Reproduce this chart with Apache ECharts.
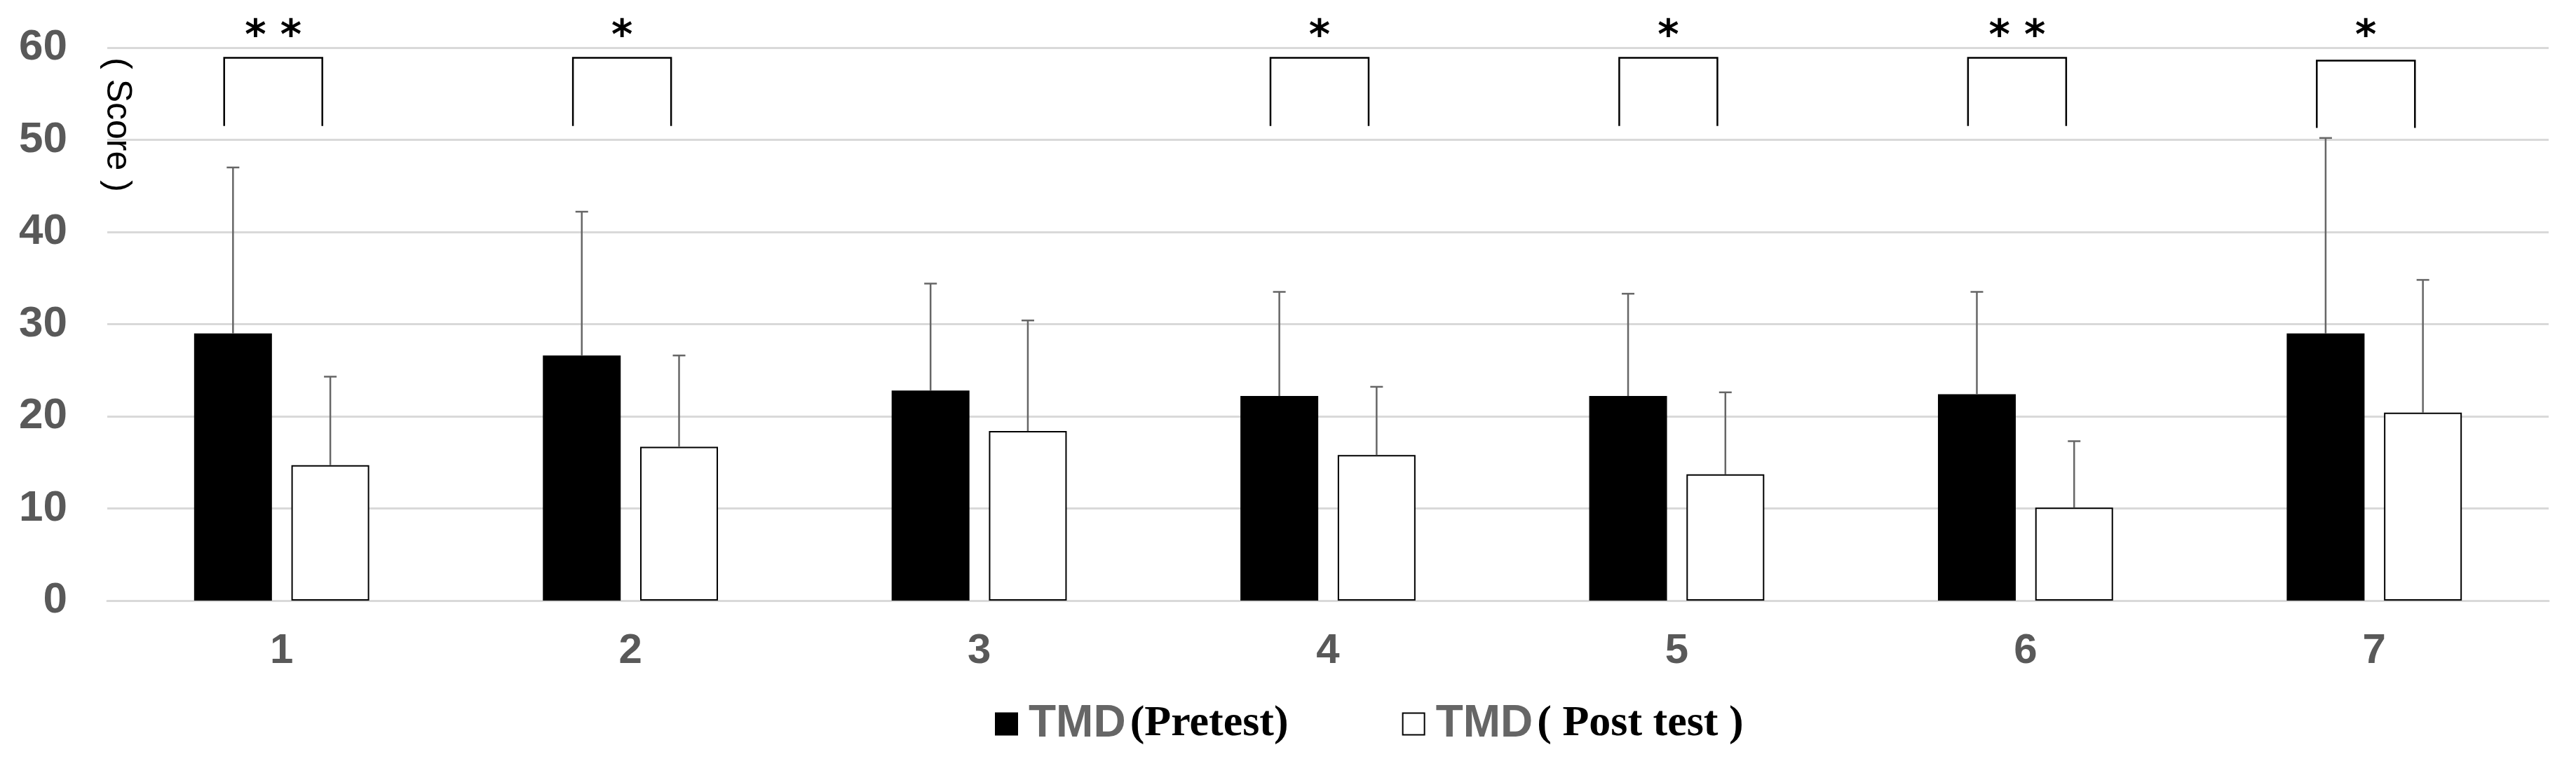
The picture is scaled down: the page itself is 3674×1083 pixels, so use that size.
<!DOCTYPE html>
<html>
<head>
<meta charset="utf-8">
<script src="https://cdn.jsdelivr.net/npm/echarts@6.0.0/dist/echarts.min.js"></script>
<style>
  html, body { margin: 0; padding: 0; background: #fff; }
  #main { width: 3674px; height: 1083px; }
</style>
</head>
<body>
<div id="main"></div>
<script>
// group labels on the x axis
var categories = ['1', '2', '3', '4', '5', '6', '7'];
// mean scores
var pretest = [29.0, 26.6, 22.8, 22.2, 22.2, 22.4, 29.0];
var posttest = [14.7, 16.7, 18.4, 15.8, 13.7, 10.1, 20.4];
// standard deviations (upper whisker only)
var pretestSD = [18.0, 15.6, 11.6, 11.3, 11.1, 11.1, 21.2];
var posttestSD = [9.6, 9.9, 12.0, 7.4, 8.9, 7.2, 14.4];
// significance marks per group
var sigMarks = ['* *', '*', '', '*', '*', '* *', '*'];
var bracketTop = [58.9, 58.9, null, 58.9, 58.9, 58.9, 58.6];
var bracketBottom = [51.5, 51.5, null, 51.5, 51.5, 51.5, 51.3];
var yTicks = [0, 10, 20, 30, 40, 50, 60];
var seriesNames = ['TMD (Pretest)', 'TMD ( Post test )'];
var legendMain = 'TMD';
var legendSub = ['(Pretest)', '( Post test )'];

var chart = echarts.init(document.getElementById('main'));

var BAR_W = 111;
var HALF = (BAR_W + BAR_W * 0.25) / 2;

function errData(means, sds) {
  return means.map(function (m, i) { return [i, m + sds[i], m]; });
}

function errRender(off) {
  return function (params, api) {
    var top = api.coord([api.value(0), api.value(1)]);
    var base = api.coord([api.value(0), api.value(2)]);
    var x = top[0] + off;
    var st = { stroke: '#666', lineWidth: 2.5 };
    return {
      type: 'group',
      children: [
        { type: 'line', shape: { x1: x, y1: base[1], x2: x, y2: top[1] }, style: st },
        { type: 'line', shape: { x1: x - 9, y1: top[1], x2: x + 9, y2: top[1] }, style: st }
      ]
    };
  };
}

var bracketData = [];
var bracketLabels = [];
sigMarks.forEach(function (s, i) {
  if (s) {
    bracketData.push([i, bracketTop[i], bracketBottom[i]]);
    bracketLabels.push(s);
  }
});

chart.setOption({
  backgroundColor: '#fff',
  animation: false,
  grid: { left: 153, right: 39, top: 68, bottom: 226 },
  legend: {
    left: 1414,
    top: 996,
    itemWidth: 31,
    itemHeight: 31,
    itemGap: 162,
    icon: 'rect',
    data: seriesNames,
    formatter: function (name) {
      var k = seriesNames.indexOf(name);
      return '{a|' + legendMain + '}{b|' + legendSub[k] + '}';
    },
    textStyle: {
      rich: {
        a: { fontFamily: 'Liberation Sans', fontSize: 64, fontWeight: 'bold', color: '#666', padding: [0, 6, 0, 11], lineHeight: 70 },
        b: { fontFamily: 'Liberation Serif', fontSize: 62, fontWeight: 'bold', color: '#000', lineHeight: 70 }
      }
    }
  },
  graphic: [{
    type: 'text',
    x: 167,
    y: 178,
    rotation: -Math.PI / 2,
    style: {
      text: '( Score )',
      font: '50px "Liberation Sans"',
      fill: '#000',
      align: 'center',
      verticalAlign: 'middle'
    }
  }],
  xAxis: {
    type: 'category',
    data: categories,
    axisLine: { lineStyle: { color: '#d9d9d9', width: 3 } },
    axisTick: { show: false },
    axisLabel: { fontFamily: 'Liberation Sans', fontSize: 60, fontWeight: 'bold', color: '#595959', margin: 42 }
  },
  yAxis: {
    type: 'value',
    min: yTicks[0],
    max: yTicks[yTicks.length - 1],
    interval: 10,
    axisLine: { show: false },
    axisTick: { show: false },
    splitLine: { lineStyle: { color: '#d9d9d9', width: 3 } },
    axisLabel: { fontFamily: 'Liberation Sans', fontSize: 62, fontWeight: 'bold', color: '#595959', margin: 57 }
  },
  series: [
    {
      name: seriesNames[0],
      type: 'bar',
      data: pretest,
      barWidth: BAR_W,
      barGap: '25%',
      itemStyle: { color: '#000', borderColor: '#000', borderWidth: 2 }
    },
    {
      name: seriesNames[1],
      type: 'bar',
      data: posttest,
      barWidth: BAR_W,
      barGap: '25%',
      itemStyle: { color: '#fff', borderColor: '#000', borderWidth: 2 }
    },
    {
      type: 'custom',
      data: errData(pretest, pretestSD),
      encode: { x: 0, y: 1 },
      renderItem: errRender(-HALF),
      z: 5
    },
    {
      type: 'custom',
      data: errData(posttest, posttestSD),
      encode: { x: 0, y: 1 },
      renderItem: errRender(HALF),
      z: 5
    },
    {
      type: 'custom',
      data: bracketData,
      encode: { x: 0, y: 1 },
      z: 6,
      renderItem: function (params, api) {
        var t = api.coord([api.value(0), api.value(1)]);
        var b = api.coord([api.value(0), api.value(2)]);
        var x1 = t[0] - 82, x2 = t[0] + 58;
        var starY = api.coord([api.value(0), 61.1])[1];
        return {
          type: 'group',
          children: [
            {
              type: 'polyline',
              shape: { points: [[x1, b[1]], [x1, t[1]], [x2, t[1]], [x2, b[1]]] },
              style: { stroke: '#000', lineWidth: 2.5, fill: null }
            },
            {
              type: 'text',
              x: (x1 + x2) / 2,
              y: starY,
              style: {
                text: bracketLabels[params.dataIndex],
                font: 'bold 58px "DejaVu Sans"',
                fill: '#000',
                align: 'center',
                verticalAlign: 'middle'
              }
            }
          ]
        };
      }
    }
  ]
});
</script>
</body>
</html>
